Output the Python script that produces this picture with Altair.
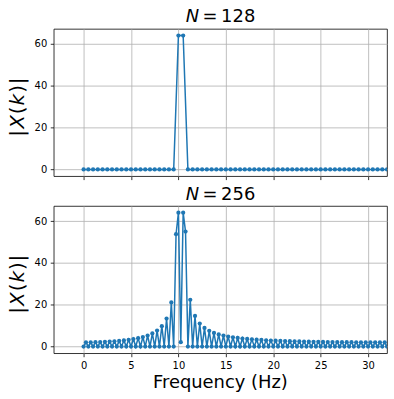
import altair as alt
import pandas as pd

# ---------------- data ----------------
freq_128 = [0.0, 0.5, 1.0, 1.5, 2.0, 2.5, 3.0, 3.5, 4.0, 4.5, 5.0, 5.5, 6.0, 6.5,
            7.0, 7.5, 8.0, 8.5, 9.0, 9.5, 10.0, 10.5, 11.0, 11.5, 12.0, 12.5, 13.0,
            13.5, 14.0, 14.5, 15.0, 15.5, 16.0, 16.5, 17.0, 17.5, 18.0, 18.5, 19.0,
            19.5, 20.0, 20.5, 21.0, 21.5, 22.0, 22.5, 23.0, 23.5, 24.0, 24.5, 25.0,
            25.5, 26.0, 26.5, 27.0, 27.5, 28.0, 28.5, 29.0, 29.5, 30.0, 30.5, 31.0,
            31.5, 32.0]
mag_128 = [0, 0, 0, 0, 0, 0, 0, 0, 0, 0, 0, 0, 0, 0, 0, 0, 0, 0, 0, 0,
           64.0, 64.0,
           0, 0, 0, 0, 0, 0, 0, 0, 0, 0, 0, 0, 0, 0, 0, 0, 0, 0, 0, 0, 0, 0,
           0, 0, 0, 0, 0, 0, 0, 0, 0, 0, 0, 0, 0, 0, 0, 0, 0, 0, 0, 0, 0]

freq_256 = [0.0, 0.25, 0.5, 0.75, 1.0, 1.25, 1.5, 1.75, 2.0, 2.25, 2.5, 2.75,
            3.0, 3.25, 3.5, 3.75, 4.0, 4.25, 4.5, 4.75, 5.0, 5.25, 5.5, 5.75,
            6.0, 6.25, 6.5, 6.75, 7.0, 7.25, 7.5, 7.75, 8.0, 8.25, 8.5, 8.75,
            9.0, 9.25, 9.5, 9.75, 10.0, 10.25, 10.5, 10.75, 11.0, 11.25, 11.5, 11.75,
            12.0, 12.25, 12.5, 12.75, 13.0, 13.25, 13.5, 13.75, 14.0, 14.25, 14.5, 14.75,
            15.0, 15.25, 15.5, 15.75, 16.0, 16.25, 16.5, 16.75, 17.0, 17.25, 17.5, 17.75,
            18.0, 18.25, 18.5, 18.75, 19.0, 19.25, 19.5, 19.75, 20.0, 20.25, 20.5, 20.75,
            21.0, 21.25, 21.5, 21.75, 22.0, 22.25, 22.5, 22.75, 23.0, 23.25, 23.5, 23.75,
            24.0, 24.25, 24.5, 24.75, 25.0, 25.25, 25.5, 25.75, 26.0, 26.25, 26.5, 26.75,
            27.0, 27.25, 27.5, 27.75, 28.0, 28.25, 28.5, 28.75, 29.0, 29.25, 29.5, 29.75,
            30.0, 30.25, 30.5, 30.75, 31.0, 31.25, 31.5, 31.75, 32.0]
mag_256 = [0, 2.00, 0, 2.03,
           0, 2.07, 0, 2.14,
           0, 2.23, 0, 2.36,
           0, 2.51, 0, 2.70,
           0, 2.93, 0, 3.22,
           0, 3.57, 0, 4.00,
           0, 4.56, 0, 5.28,
           0, 6.26, 0, 7.64,
           0, 9.74, 0, 13.35,
           0, 21.10, 0, 53.69,
           64.0, 2.10, 64.0, 54.95,
           0, 22.37, 0, 14.62,
           0, 11.00, 0, 8.89,
           0, 7.50, 0, 6.52,
           0, 5.79, 0, 5.22,
           0, 4.77, 0, 4.41,
           0, 4.10, 0, 3.84,
           0, 3.63, 0, 3.44,
           0, 3.27, 0, 3.13,
           0, 3.00, 0, 2.89,
           0, 2.79, 0, 2.70,
           0, 2.62, 0, 2.55,
           0, 2.48, 0, 2.43,
           0, 2.37, 0, 2.32,
           0, 2.28, 0, 2.24,
           0, 2.21, 0, 2.17,
           0, 2.15, 0, 2.12,
           0, 2.10, 0, 2.08,
           0, 2.06, 0, 2.04,
           0, 2.03, 0, 2.02,
           0, 2.01, 0, 2.01,
           0, 2.00, 0, 2.00,
           0]

x_ticks = [0, 5, 10, 15, 20, 25, 30]
y_ticks = [0, 20, 40, 60]
x_domain = [-3.15, 32.0]
y_domain = [-3.2, 67.2]
titles = ["128", "256"]
x_label = "Frequency (Hz)"

# ---------------- style ----------------
FONT = "DejaVu Sans"
BLUE = "#1f77b4"
W, H = 335, 148
one = pd.DataFrame({"d": [0]})


def txt(s, x, y, size, style="normal", angle=0, align="center", baseline="alphabetic"):
    return alt.Chart(one).mark_text(
        text=s, font=FONT, fontSize=size, fontStyle=style, angle=angle,
        align=align, baseline=baseline, color="black"
    ).encode(x=alt.value(x), y=alt.value(y))


def panel(freq, mag, num, bottom):
    df = pd.DataFrame({"f": freq, "m": mag})
    base = alt.Chart(df)
    xax = alt.Axis(values=x_ticks, labels=bottom, title=x_label if bottom else None,
                   titleFontSize=18, titleFont=FONT, titleFontWeight="normal",
                   titleColor="black", titleBaseline="alphabetic",
                   titleX=167, titleY=34.2, titleAlign="center")
    yax = alt.Axis(values=y_ticks, title=None)
    x = alt.X("f:Q", scale=alt.Scale(domain=x_domain, nice=False, zero=False), axis=xax)
    y = alt.Y("m:Q", scale=alt.Scale(domain=y_domain, nice=False, zero=False), axis=yax)
    line = base.mark_line(color=BLUE, strokeWidth=1.5, clip=True).encode(x=x, y=y)
    pts = base.mark_circle(color=BLUE, size=18, opacity=1, clip=True).encode(x=x, y=y)

    # invisible frame fixing the overall bounds
    if bottom:
        frame = alt.Chart(one).mark_rect(opacity=0).encode(
            x=alt.value(-53.3), x2=alt.value(340.7), y=alt.value(-20), y2=alt.value(194))
    else:
        frame = alt.Chart(one).mark_rect(opacity=0).encode(
            x=alt.value(-53.3), x2=alt.value(340.7), y=alt.value(-27.3), y2=alt.value(160))

    t_n = txt("N", 139.3, -6.5, 18, style="italic")
    t_eq = txt("=", 157.0, -6.5, 18)
    t_num = txt(num, 185.4, -6.5, 18)

    # y label |X(k)| built from pieces (rotated)
    yl_x = -30
    ys = [105.0, 93.6, 81.9, 71.2, 60.4, 52.4]
    chars = ["|", "X", "(", "k", ")", "|"]
    styles = ["normal", "italic", "normal", "italic", "normal", "normal"]
    ylab = [txt(c, yl_x, yy, 20, style=s, angle=270) for c, yy, s in zip(chars, ys, styles)]

    return alt.layer(frame, line, pts, t_n, t_eq, t_num, *ylab).properties(width=W, height=H)


top = panel(freq_128, mag_128, titles[0], False)
bot = panel(freq_256, mag_256, titles[1], True)

chart = alt.vconcat(top, bot, spacing=30, bounds="flush").properties(
    padding=0
).configure_view(
    stroke="black", strokeWidth=0.8
).configure_axis(
    labelFont=FONT, labelFontSize=10, labelColor="black",
    tickColor="black", tickWidth=0.8, tickSize=3.5, labelPadding=3.5,
    domain=False, grid=True, gridColor="#b0b0b0", gridWidth=0.8, gridOpacity=1
)

chart.save("out.html", embed_options={"renderer": "svg", "actions": False})
